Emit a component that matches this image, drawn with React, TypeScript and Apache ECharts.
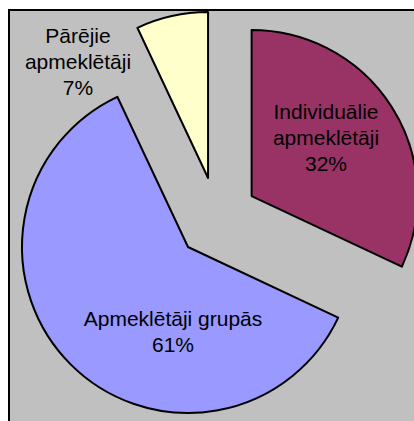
import React, { useEffect, useRef } from "react";
import * as echarts from "echarts";

const categories = ["Individuālie apmeklētāji", "Apmeklētāji grupās", "Pārējie apmeklētāji"];
const values = [32, 61, 7];
const wrapName = [true, false, true];
const colors = ["#993366", "#9999FF", "#FFFFCC"];
const labelPos: number[][] = [
  [326, 137],
  [173, 331],
  [78, 61],
];

export default function App() {
  const ref = useRef<HTMLDivElement>(null);
  useEffect(() => {
    if (!ref.current) return;
    const chart = echarts.init(ref.current, undefined, { renderer: "svg" });
    const total = values.reduce((a, b) => a + b, 0);
    const labels = categories.map((name, i) => ({
      type: "text",
      silent: true,
      z: 100,
      x: labelPos[i][0],
      y: labelPos[i][1],
      style: {
        text:
          (wrapName[i] ? name.replace(" ", "\n") : name) +
          "\n" +
          Math.round((values[i] / total) * 100) +
          "%",
        fill: "#000000",
        fontFamily: "Liberation Sans, Arial, sans-serif",
        fontSize: 21,
        lineHeight: 26,
        align: "center",
        verticalAlign: "middle",
      },
    }));
    chart.setOption({
      animation: false,
      backgroundColor: "#FFFFFF",
      graphic: [
        {
          type: "rect",
          silent: true,
          z: -10,
          shape: { x: 9, y: 10, width: 430, height: 430 },
          style: { fill: "#C0C0C0", stroke: "#000000", lineWidth: 2 },
        },
        ...labels,
      ],
      series: [
        {
          type: "pie",
          z: 5,
          center: [217, 218],
          radius: [0, 166],
          startAngle: 90,
          clockwise: true,
          selectedMode: "multiple",
          selectedOffset: 41,
          silent: true,
          emphasis: { disabled: true },
          itemStyle: { borderColor: "#000000", borderWidth: 2 },
          select: { itemStyle: { borderColor: "#000000", borderWidth: 2 } },
          label: { show: false },
          labelLine: { show: false },
          data: categories.map((name, i) => ({
            name,
            value: values[i],
            selected: true,
            itemStyle: { color: colors[i] },
            select: { itemStyle: { color: colors[i] } },
          })),
        },
      ],
    });
    return () => chart.dispose();
  }, []);
  return (
    <div
      ref={ref}
      style={{ position: "absolute", left: 0, top: 0, width: 414, height: 421 }}
    />
  );
}
